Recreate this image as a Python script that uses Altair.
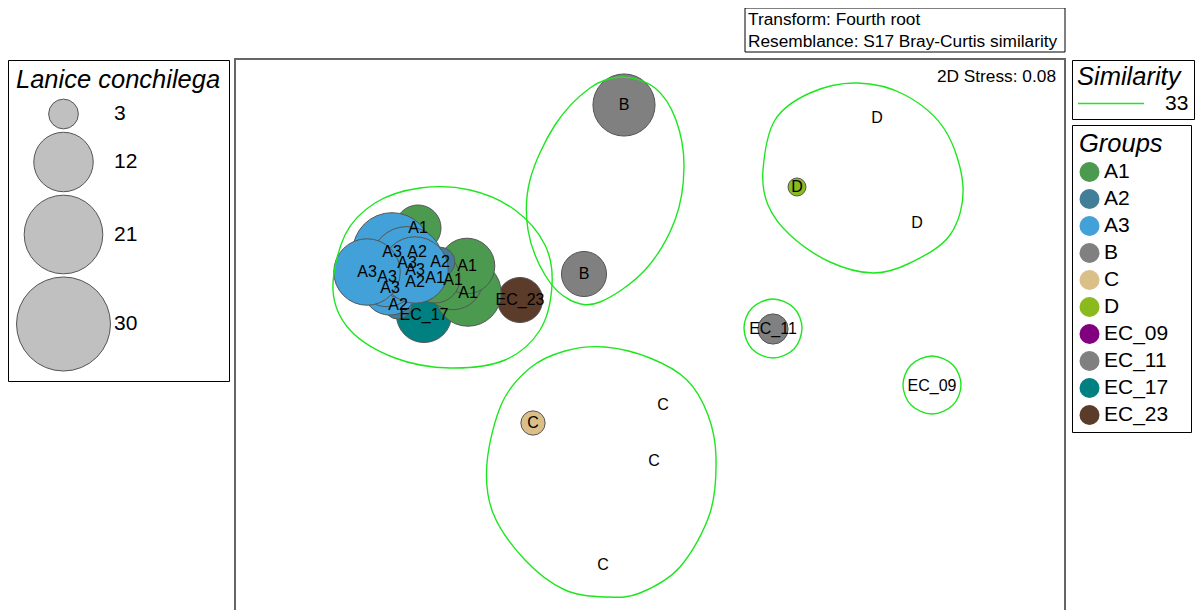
import altair as alt
import pandas as pd

# ---------------- data ----------------
groups = ["A1", "A2", "A3", "B", "C", "D", "EC_09", "EC_11", "EC_17", "EC_23"]
group_colors = ["#4c9a4f", "#437e98", "#41a1d8", "#808080", "#dbbf88",
                "#8aba1d", "#800080", "#808080", "#008080", "#5b3b2a"]

sample_group = ["EC_17", "EC_23",
                "A1", "A1", "A1", "A1", "A1",
                "A2", "A2", "A2", "A2",
                "A3", "A3", "A3", "A3", "A3", "A3",
                "B", "B",
                "C", "C", "C", "C",
                "D", "D", "D",
                "EC_11", "EC_09"]
mds_x = [-2.26, -1.30,
         -2.32, -1.82, -1.97, -1.83, -2.15,
         -2.52, -2.33, -2.10, -2.35,
         -2.58, -2.60, -2.63, -2.43, -2.35, -2.83,
         -0.26, -0.66,
         -1.17, 0.13, 0.04, -0.47,
         1.47, 2.27, 2.67,
         1.23, 2.82]
mds_y = [0.20, 0.35,
         1.07, 0.42, 0.55, 0.69, 0.57,
         0.30, 0.83, 0.73, 0.53,
         0.83, 0.47, 0.58, 0.72, 0.65, 0.63,
         2.30, 0.61,
         -0.88, -0.70, -1.26, -2.30,
         1.48, 2.17, 1.12,
         0.06, -0.51]
lanice = [10.3, 6.9,
          7.2, 15.0, 12.0, 10.5, 8.5,
          2.7, 3.0, 3.0, 3.0,
          21.0, 10.0, 12.0, 18.0, 15.0, 15.0,
          13.1, 6.9,
          2.0, 0, 0, 0,
          1.1, 0, 0,
          3.1, 0]

size_legend_values = [3, 12, 21, 30]
similarity_level = "33"

hull_A_x = [-3.17, -3.05, -2.75, -2.30, -1.80, -1.35, -1.05, -0.98, -1.10, -1.45, -2.00, -2.55, -3.00]
hull_A_y = [0.45, 1.00, 1.32, 1.47, 1.45, 1.25, 0.90, 0.50, 0.05, -0.25, -0.33, -0.23, 0.05]
hull_B_x = [-0.28, 0.05, 0.26, 0.34, 0.25, -0.05, -0.50, -0.80, -1.05, -1.22, -1.20, -0.95, -0.60]
hull_B_y = [2.58, 2.47, 2.15, 1.68, 1.15, 0.65, 0.33, 0.35, 0.60, 1.05, 1.55, 2.10, 2.47]
hull_D_x = [1.13, 1.25, 1.60, 2.07, 2.55, 2.95, 3.13, 3.00, 2.60, 2.23, 1.80, 1.40, 1.18]
hull_D_y = [1.65, 2.15, 2.42, 2.52, 2.40, 2.05, 1.48, 1.00, 0.72, 0.62, 0.73, 1.00, 1.30]
hull_EC11_x = [0.94, 1.02, 1.23, 1.44, 1.52, 1.44, 1.23, 1.02]
hull_EC11_y = [0.07, 0.27, 0.36, 0.27, 0.07, -0.14, -0.23, -0.14]
hull_EC09_x = [2.53, 2.61, 2.82, 3.03, 3.11, 3.03, 2.82, 2.61]
hull_EC09_y = [-0.50, -0.30, -0.21, -0.30, -0.50, -0.70, -0.79, -0.70]
hull_C_x = [-1.63, -1.48, -1.20, -0.85, -0.45, 0.00, 0.37, 0.58, 0.66, 0.60, 0.30, -0.10, -0.43, -0.85, -1.25, -1.57]
hull_C_y = [-1.28, -0.68, -0.33, -0.16, -0.12, -0.23, -0.45, -0.80, -1.22, -1.78, -2.32, -2.58, -2.62, -2.55, -2.25, -1.78]

info_text = "Transform: Fourth root\nResemblance: S17 Bray-Curtis similarity"
stress_text = "2D Stress: 0.08"

# ---------------- tables ----------------
samples = pd.DataFrame({"group": sample_group, "x": mds_x, "y": mds_y, "lanice": lanice})

hull_rows = []
for name, hx, hy in [("A", hull_A_x, hull_A_y), ("B", hull_B_x, hull_B_y),
                     ("D", hull_D_x, hull_D_y), ("EC11", hull_EC11_x, hull_EC11_y),
                     ("EC09", hull_EC09_x, hull_EC09_y), ("C", hull_C_x, hull_C_y)]:
    for i, (a, b) in enumerate(zip(hx, hy)):
        hull_rows.append({"hull": name, "i": i, "x": a, "y": b, "sim": similarity_level})
hulls = pd.DataFrame(hull_rows)

FONT = "Liberation Sans"
TITLE_SIZE = 25.5
LABEL_SIZE = 21
xs = alt.Scale(domain=[-4.15, 4.15], nice=False, zero=False)
ys = alt.Scale(domain=[-2.84, 2.76], nice=False, zero=False)

bubbles = alt.Chart(samples).transform_filter("datum.lanice > 0").mark_circle(
    opacity=1, stroke="#555555", strokeWidth=1
).encode(
    x=alt.X("x:Q", scale=xs, axis=None),
    y=alt.Y("y:Q", scale=ys, axis=None),
    fill=alt.Fill("group:N", scale=alt.Scale(domain=groups, range=group_colors),
                  legend=alt.Legend(orient="none", legendX=837, legendY=66,
                                    title="Groups",
                                    symbolType="circle", symbolSize=400, symbolStrokeWidth=0,
                                    symbolOpacity=1, rowPadding=5, labelOffset=4, padding=7,
                                    titlePadding=4,
                                    labelExpr="datum.label + '\u2800'")),
    size=alt.Size("lanice:Q", scale=alt.Scale(type="linear", domain=[0, 30], range=[0, 8836], zero=True),
                  legend=alt.Legend(orient="none", legendX=-227, legendY=1, title="Lanice conchilega",
                                    values=size_legend_values, symbolType="circle",
                                    symbolFillColor="#c0c0c0", symbolStrokeColor="#555555",
                                    symbolStrokeWidth=1, symbolOpacity=1, rowPadding=-2,
                                    labelOffset=3, padding=8, titlePadding=5)),
)

hull_lines = alt.Chart(hulls).mark_line(interpolate="cardinal-closed", strokeWidth=1.4).encode(
    x=alt.X("x:Q", scale=xs, axis=None),
    y=alt.Y("y:Q", scale=ys, axis=None),
    detail="hull:N",
    order=alt.Order("i:Q"),
    stroke=alt.Stroke("sim:N", scale=alt.Scale(domain=[similarity_level], range=["#1ee61e"]),
                      legend=alt.Legend(orient="none", legendX=837, legendY=1, title="Similarity",
                                        symbolType="M-1,0L5,0", symbolSize=484,
                                        symbolStrokeWidth=1.5,
                                        labelOffset=64, padding=5, titlePadding=1)),
)

labels = alt.Chart(samples).mark_text(font=FONT, fontSize=16, color="black",
                                      align="center", baseline="middle").encode(
    x=alt.X("x:Q", scale=xs, axis=None),
    y=alt.Y("y:Q", scale=ys, axis=None),
    text="group:N",
)

info_df = pd.DataFrame({"t": [info_text], "s": [stress_text]})
info_box = alt.Chart(info_df).mark_rect(fill="white", stroke="black", strokeWidth=1).encode(
    x=alt.value(510), x2=alt.value(830), y=alt.value(-51), y2=alt.value(-7)
)
info_txt = alt.Chart(info_df).mark_text(font=FONT, fontSize=17.3, color="black", align="left",
                                        baseline="alphabetic", lineBreak="\n", lineHeight=22).encode(
    x=alt.value(513), y=alt.value(-34), text="t:N"
)
stress_txt = alt.Chart(info_df).mark_text(font=FONT, fontSize=17.3, color="black", align="right",
                                          baseline="alphabetic").encode(
    x=alt.value(821), y=alt.value(23), text="s:N"
)

chart = alt.layer(bubbles, hull_lines, labels, info_box, info_txt, stress_txt).resolve_scale(
    fill="independent", size="independent", stroke="independent"
).properties(
    width=830, height=560,
    padding={"left": 227, "top": 51, "right": 130, "bottom": 0},
    autosize=alt.AutoSizeParams(type="none"),
).configure_view(
    stroke="#666666", strokeWidth=2
).configure_legend(
    titleFont=FONT, labelFont=FONT, titleFontSize=TITLE_SIZE, labelFontSize=LABEL_SIZE,
    titleFontStyle="italic", titleFontWeight="normal", titleColor="black", labelColor="black",
    strokeColor="black", fillColor="white", cornerRadius=0, titleLimit=400, labelLimit=300,
    titleAnchor="start",
)

chart.save("out.html", embed_options={"renderer": "svg", "actions": False})
